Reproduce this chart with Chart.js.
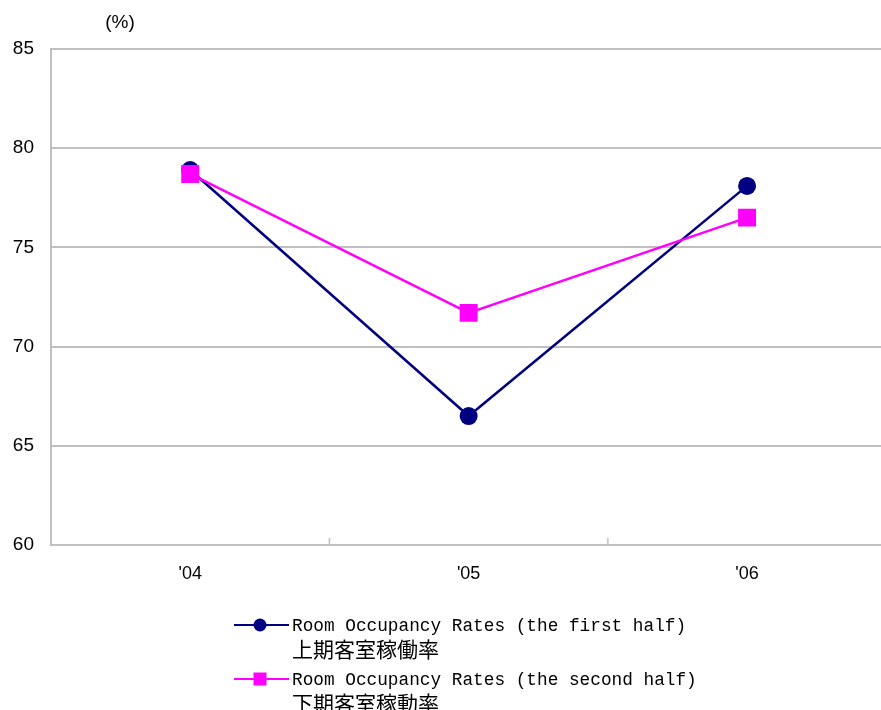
<!DOCTYPE html>
<html>
<head>
<meta charset="utf-8">
<script src="https://cdn.jsdelivr.net/npm/chart.js@4/dist/chart.umd.min.js"></script>
<style>
html,body{margin:0;padding:0;overflow:hidden;background:#fff;width:881px;height:710px;}
#wrap{width:900px;height:710px;}
</style>
</head>
<body>
<div id="wrap"><canvas id="c" width="899" height="710"></canvas></div>
<script>
const categories = ["'04", "'05", "'06"];
const firstHalf = [78.9, 66.5, 78.1];
const secondHalf = [78.7, 71.7, 76.5];
const yTicks = [60, 65, 70, 75, 80, 85];
const unitLabel = "(%)";
const seriesNamesEn = ["Room Occupancy Rates (the first half)", "Room Occupancy Rates (the second half)"];
const seriesNamesJa = ["上期客室稼働率", "下期客室稼動率"];

const extras = {
  id: 'extras',
  beforeDatasetsDraw(chart) {
    const ctx = chart.ctx, x = chart.scales.x, area = chart.chartArea;
    ctx.save();
    ctx.strokeStyle = '#c0c0c0';
    ctx.lineWidth = 1.5;
    for (let i = 0; i < categories.length - 1; i++) {
      const px = (x.getPixelForValue(i) + x.getPixelForValue(i + 1)) / 2;
      ctx.beginPath();
      ctx.moveTo(px, area.bottom - 7);
      ctx.lineTo(px, area.bottom);
      ctx.stroke();
    }
    ctx.restore();
  },
  afterDraw(chart) {
    const ctx = chart.ctx, area = chart.chartArea;
    ctx.save();
    ctx.fillStyle = '#000';
    ctx.font = "19px 'Liberation Sans', Arial, sans-serif";
    ctx.textAlign = 'center';
    ctx.textBaseline = 'middle';
    ctx.fillText(unitLabel, 120, 23);
    // legend
    const ds = chart.data.datasets;
    const rows = [area.bottom + 80, area.bottom + 134];
    ds.forEach((d, i) => {
      const y = rows[i];
      ctx.strokeStyle = d.borderColor;
      ctx.lineWidth = 2;
      ctx.beginPath();
      ctx.moveTo(234, y);
      ctx.lineTo(289, y);
      ctx.stroke();
      ctx.fillStyle = d.backgroundColor;
      if (d.pointStyle === 'circle') {
        ctx.beginPath();
        ctx.arc(260, y, 6.5, 0, Math.PI * 2);
        ctx.fill();
      } else {
        ctx.fillRect(253.5, y - 6.5, 13, 13);
      }
      ctx.fillStyle = '#000';
      ctx.textAlign = 'left';
      ctx.textBaseline = 'middle';
      ctx.font = "17.75px 'Liberation Mono', 'DejaVu Sans Mono', monospace";
      ctx.fillText(seriesNamesEn[i], 292, y + 1);
      ctx.font = "21px 'Noto Sans CJK JP', sans-serif";
      ctx.fillText(seriesNamesJa[i], 292, y + 24);
    });
    ctx.restore();
  }
};

new Chart(document.getElementById('c'), {
  type: 'line',
  data: {
    labels: categories,
    datasets: [
      {
        label: seriesNamesEn[0] + ' ' + seriesNamesJa[0],
        data: firstHalf,
        borderColor: '#000080',
        backgroundColor: '#000080',
        borderWidth: 2.5,
        pointStyle: 'circle',
        pointRadius: 9,
        pointHoverRadius: 9,
        pointBorderWidth: 0,
        tension: 0,
        order: 1
      },
      {
        label: seriesNamesEn[1] + ' ' + seriesNamesJa[1],
        data: secondHalf,
        borderColor: '#ff00ff',
        backgroundColor: '#ff00ff',
        borderWidth: 2.5,
        pointStyle: 'rect',
        pointRadius: 12.7,
        pointHoverRadius: 12.7,
        pointBorderWidth: 0,
        tension: 0,
        order: 0
      }
    ]
  },
  options: {
    responsive: false,
    animation: false,
    devicePixelRatio: 1,
    layout: { padding: { top: 49, right: 1, bottom: 120, left: 0 } },
    plugins: { legend: { display: false }, tooltip: { enabled: false }, title: { display: false } },
    scales: {
      x: {
        type: 'category',
        offset: true,
        grid: { display: false, offset: true },
        border: { display: true, color: '#c0c0c0', width: 2 },
        ticks: {
          color: '#000',
          font: { family: "'Liberation Sans', Arial, sans-serif", size: 18 },
          padding: 10,
          maxRotation: 0
        },
        afterFit(s) { s.height = 45; }
      },
      y: {
        min: 60,
        max: 85,
        afterBuildTicks(s) { s.ticks = yTicks.map(v => ({ value: v })); },
        grid: { color: '#c0c0c0', lineWidth: 2, drawTicks: false },
        border: { display: true, color: '#c0c0c0', width: 2 },
        ticks: {
          color: '#000',
          font: { family: "'Liberation Sans', Arial, sans-serif", size: 19 },
          padding: 17
        },
        afterFit(s) { s.width = 51; }
      }
    }
  },
  plugins: [extras]
});
</script>
</body>
</html>
